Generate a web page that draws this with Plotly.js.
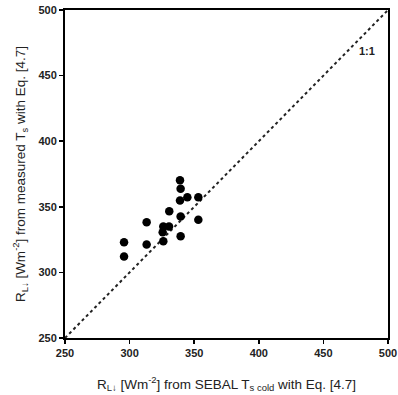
<!DOCTYPE html>
<html>
<head>
<meta charset="utf-8">
<script src="https://cdn.plot.ly/plotly-3.0.1.min.js"></script>
<style>html,body{margin:0;padding:0;background:#fff;}#chart{width:398px;height:395px;}</style>
</head>
<body>
<div id="chart"></div>
<script>
// Values
const sebalRL = [339, 339.5, 339, 344.7, 353.2, 330.7, 339.5, 353.2, 313.2, 326.1, 330.5, 325.6, 339.5, 326.1, 313.2, 295.7, 295.7];
const measuredRL = [370.3, 363.7, 354.8, 357.3, 357.3, 346.6, 342.6, 340.1, 338.3, 335, 335, 330.6, 327.6, 323.8, 321.3, 323, 312.1];
const oneToOne = [250, 500];
const tickVals = [250, 300, 350, 400, 450, 500];
const tickText = ["250", "300", "350", "400", "450", "500"];

const traces = [
  {
    x: oneToOne, y: oneToOne, mode: 'lines', type: 'scatter',
    line: {color: '#222', width: 2, dash: 'dot'}, hoverinfo: 'skip', showlegend: false
  },
  {
    x: sebalRL, y: measuredRL, mode: 'markers', type: 'scatter',
    marker: {color: '#000', size: 8.5}, showlegend: false
  }
];

const axisCommon = {
  range: [250, 500], tickvals: tickVals, ticktext: tickText.map(t => '<b>' + t + '</b>'),
  ticks: 'outside', ticklen: 4, tickwidth: 1.5, tickcolor: '#000',
  showline: true, linecolor: '#000', linewidth: 2, mirror: true,
  showgrid: false, zeroline: false,
  tickfont: {family: 'Liberation Sans, Arial, sans-serif', size: 11, color: '#222'}
};

const layout = {
  width: 398, height: 395,
  margin: {l: 65, r: 10, t: 10, b: 57},
  paper_bgcolor: '#fff', plot_bgcolor: '#fff',
  font: {family: 'Liberation Sans, Arial, sans-serif', color: '#222'},
  xaxis: Object.assign({}, axisCommon, {
    title: {text: 'R<sub>L↓</sub> [Wm<sup>-2</sup>] from SEBAL T<sub>s cold</sub> with Eq. [4.7]', font: {size: 13.5}, standoff: 21}
  }),
  yaxis: Object.assign({}, axisCommon, {
    title: {text: 'R<sub>L↓</sub> [Wm<sup>-2</sup>] from measured T<sub>s</sub> with Eq. [4.7]', font: {size: 13.5}, standoff: 10}
  }),
  annotations: [
    {x: 484, y: 469, xref: 'x', yref: 'y', text: '<b>1:1</b>', showarrow: false,
     font: {size: 11, color: '#222', family: 'Liberation Sans, Arial, sans-serif'}}
  ]
};

Plotly.newPlot('chart', traces, layout, {displayModeBar: false, staticPlot: true});
</script>
</body>
</html>
